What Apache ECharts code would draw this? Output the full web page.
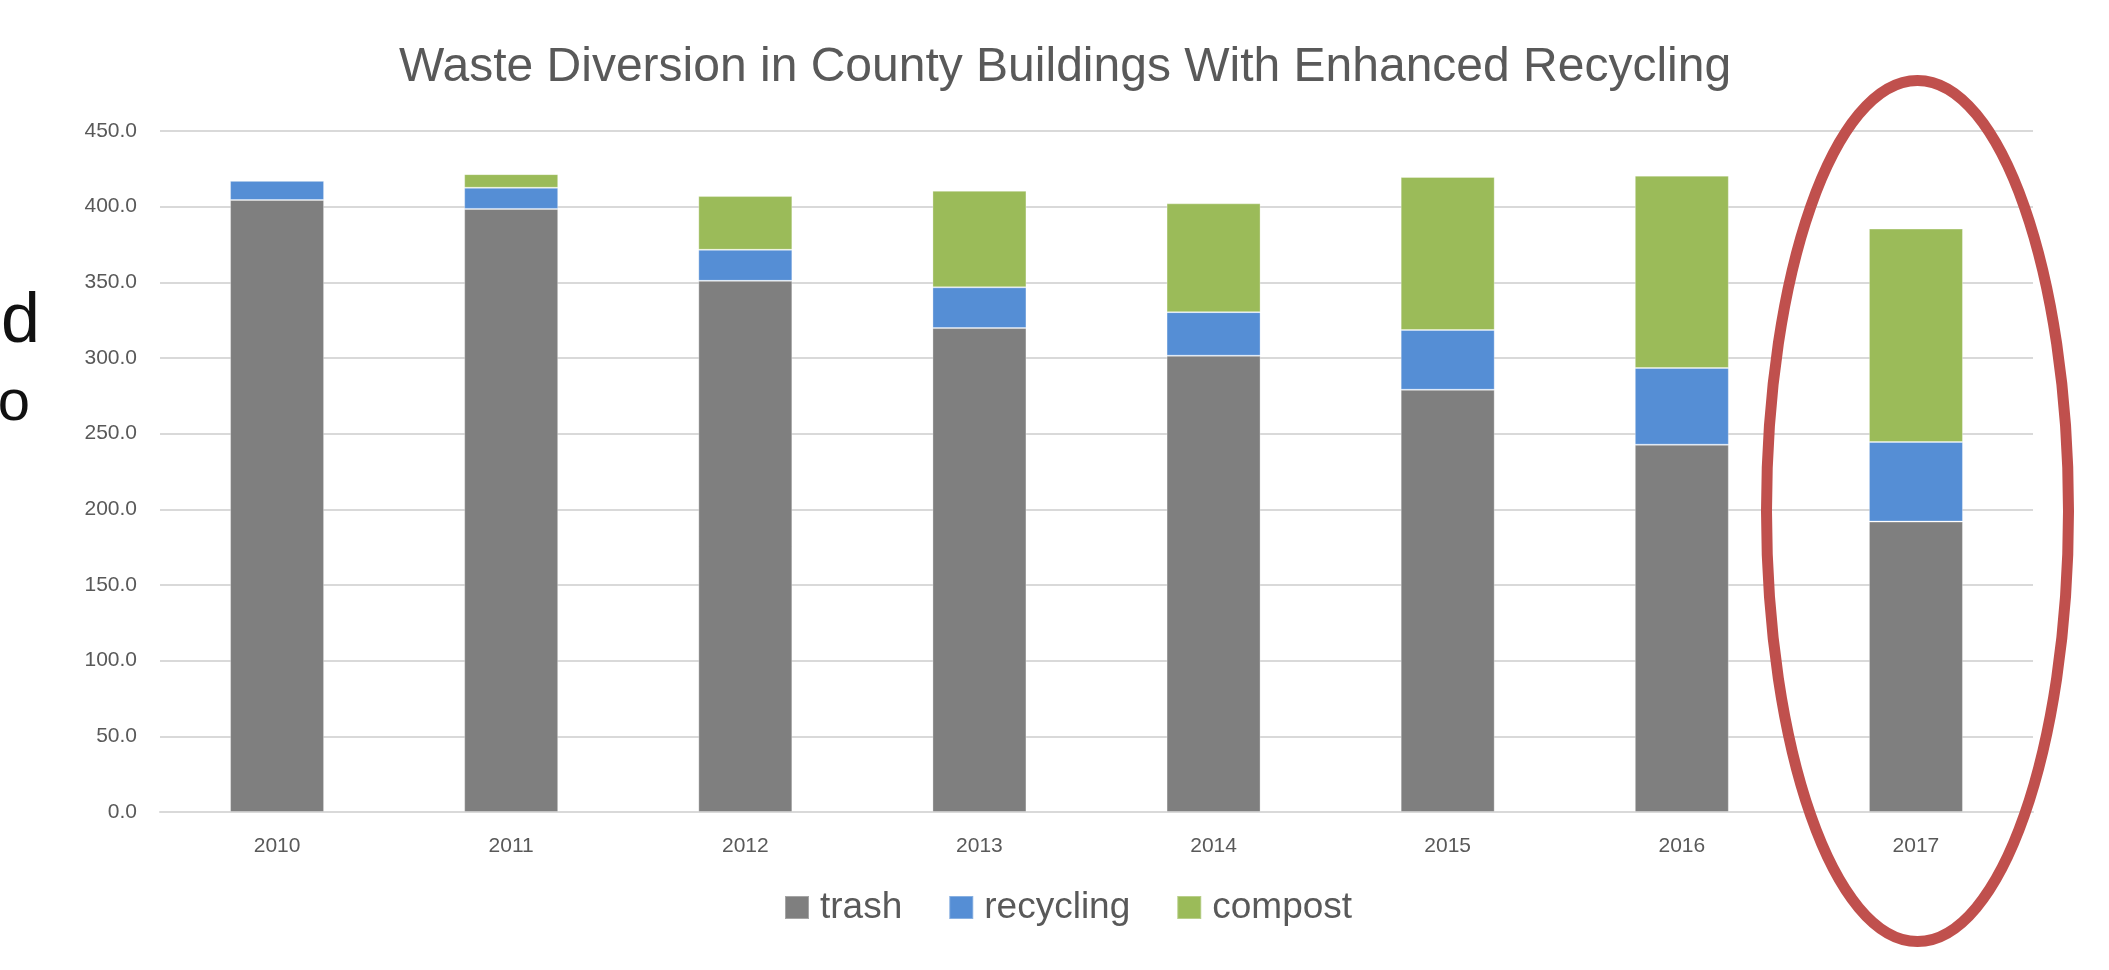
<!DOCTYPE html>
<html>
<head>
<meta charset="utf-8">
<script src="https://cdn.jsdelivr.net/npm/echarts@6/dist/echarts.min.js"></script>
<style>
html,body{margin:0;padding:0;background:#fff;}
#chart{width:2109px;height:970px;}
</style>
</head>
<body>
<div id="chart"></div>
<script>
var years = ['2010','2011','2012','2013','2014','2015','2016','2017'];
var trash = [404.4, 398.5, 351.0, 319.8, 301.5, 279.0, 242.7, 191.9];
var recycling = [12.7, 14.0, 20.5, 26.9, 28.8, 39.5, 50.7, 52.6];
var compost = [0, 9.0, 35.5, 63.8, 71.9, 101.1, 127.1, 141.0];
var yTicks = [0, 450, 50];

var FONT = '"Liberation Sans", Arial, sans-serif';
var TXT = '#595959';
var chart = echarts.init(document.getElementById('chart'), null, {renderer: 'canvas'});
function barSeries(name, data, color) {
  return {
    name: name, type: 'bar', stack: 'total', data: data, barWidth: 94,
    itemStyle: {color: color, borderColor: 'rgba(255,255,255,0.3)', borderWidth: 1},
    emphasis: {disabled: true}
  };
}
chart.setOption({
  animation: false,
  backgroundColor: '#ffffff',
  title: {
    text: 'Waste Diversion in County Buildings With Enhanced Recycling',
    left: 394, top: 39,
    textStyle: {fontFamily: FONT, fontSize: 48, fontWeight: 'normal', color: TXT}
  },
  grid: {left: 160, right: 76, top: 131, bottom: 158, containLabel: false},
  legend: {
    data: ['trash', 'recycling', 'compost'],
    left: 779, top: 884,
    itemWidth: 24, itemHeight: 23, itemGap: 46,
    icon: 'rect',
    textStyle: {fontFamily: FONT, fontSize: 37, color: TXT, padding: [0, 0, 0, 6]}
  },
  xAxis: {
    type: 'category', data: years,
    axisTick: {show: false},
    axisLine: {lineStyle: {color: '#D9D9D9', width: 2}},
    axisLabel: {fontFamily: FONT, fontSize: 21, color: TXT, margin: 24}
  },
  yAxis: {
    type: 'value', min: yTicks[0], max: yTicks[1], interval: yTicks[2],
    axisLine: {show: false}, axisTick: {show: false},
    splitLine: {lineStyle: {color: '#D9D9D9', width: 2}},
    axisLabel: {fontFamily: FONT, fontSize: 21, color: TXT, margin: 23,
      formatter: function (v) { return v.toFixed(1); }}
  },
  series: [
    barSeries('trash', trash, '#7F7F7F'),
    barSeries('recycling', recycling, '#558ED5'),
    barSeries('compost', compost, '#9BBB59')
  ],
  graphic: [
    {type: 'text', x: 40, y: 323, style: {text: 'd', fontFamily: FONT, fontSize: 70, fill: '#111', align: 'right', verticalAlign: 'middle'}},
    {type: 'text', x: 30, y: 404, style: {text: 'o', fontFamily: FONT, fontSize: 58, fill: '#111', align: 'right', verticalAlign: 'middle'}},
    {type: 'ellipse', shape: {cx: 1917.5, cy: 511, rx: 151, ry: 430.5},
      style: {fill: 'none', stroke: '#C0504D', lineWidth: 11}, z: 100}
  ]
});
</script>
</body>
</html>
